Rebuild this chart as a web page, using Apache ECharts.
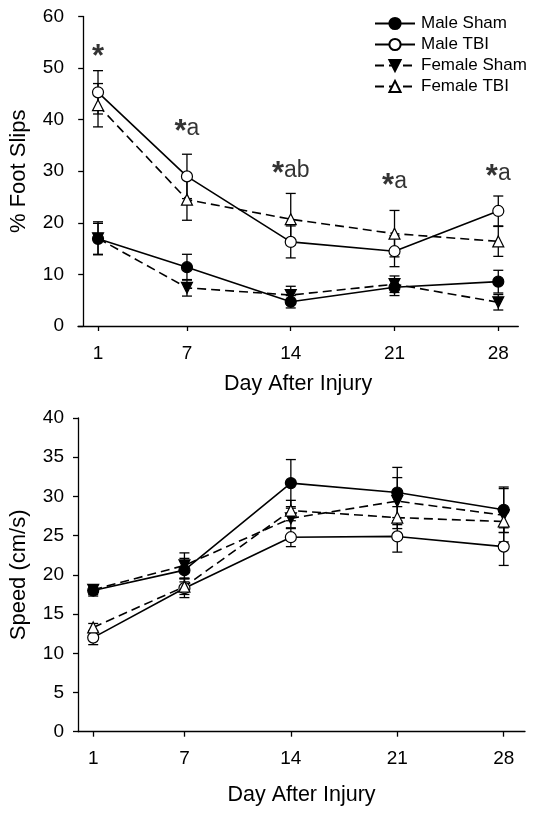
<!DOCTYPE html>
<html>
<head>
<meta charset="utf-8">
<script src="https://cdn.jsdelivr.net/npm/echarts@6/dist/echarts.min.js"></script>
<style>
html,body{margin:0;padding:0;background:#fff;}
#chart{width:535px;height:814px;}
</style>
</head>
<body>
<div id="chart"></div>
<script>
// ---- data ----
var days = [1, 7, 14, 21, 28];
var seriesNames = ['Male Sham', 'Male TBI', 'Female Sham', 'Female TBI'];

// % Foot Slips (mean, SEM)
var slipMaleSham = [16.9, 11.4, 4.7, 7.5, 8.6];
var slipMaleShamSem = [3.0, 2.5, 1.2, 1.6, 2.2];
var slipMaleTBI = [45.3, 29.0, 16.3, 14.5, 22.3];
var slipMaleTBISem = [4.2, 4.3, 3.1, 3.0, 2.9];
var slipFemaleSham = [17.0, 7.4, 6.0, 8.1, 4.6];
var slipFemaleShamSem = [3.2, 1.6, 1.7, 1.6, 1.5];
var slipFemaleTBI = [42.8, 24.5, 20.7, 17.9, 16.4];
var slipFemaleTBISem = [4.2, 4.0, 5.0, 4.5, 2.9];

// Speed (cm/s) (mean, SEM)
var speedMaleSham = [18.0, 20.6, 31.7, 30.5, 28.3];
var speedMaleShamSem = [0.7, 1.5, 3.0, 3.2, 2.9];
var speedMaleTBI = [12.0, 18.3, 24.8, 24.9, 23.6];
var speedMaleTBISem = [0.9, 1.2, 1.2, 2.0, 2.4];
var speedFemaleSham = [18.1, 21.2, 27.2, 29.4, 27.6];
var speedFemaleShamSem = [0.6, 1.6, 1.3, 3.0, 3.4];
var speedFemaleTBI = [13.3, 18.5, 28.2, 27.3, 26.8];
var speedFemaleTBISem = [0.5, 1.0, 1.3, 1.4, 1.4];

// significance annotations (top panel)
var annoDays = [1, 7, 14, 21, 28];
var annoLevels = [53.0, 38.3, 30.2, 27.9, 29.6];
var annoStars = ['*', '*', '*', '*', '*'];
var annoLetters = ['', 'a', 'ab', 'a', 'a'];

var yTicksTop = [0, 10, 20, 30, 40, 50, 60];
var yTicksBottom = [0, 5, 10, 15, 20, 25, 30, 35, 40];

// ---- helpers ----
var FONT = '"Liberation Sans", Arial, Helvetica, sans-serif';
function pairs(xs, ys) { return xs.map(function (x, i) { return [x, ys[i]]; }); }
function errData(xs, m, s) { return xs.map(function (x, i) { return [x, m[i] - s[i], m[i] + s[i]]; }); }
function renderErr(params, api) {
  var x = api.value(0), lo = api.value(1), hi = api.value(2);
  var pLo = api.coord([x, lo]), pHi = api.coord([x, hi]);
  var hw = 5;
  var st = { stroke: '#000', lineWidth: 1.3, fill: null };
  return {
    type: 'group', children: [
      { type: 'line', shape: { x1: pLo[0], y1: pLo[1], x2: pHi[0], y2: pHi[1] }, style: st },
      { type: 'line', shape: { x1: pLo[0] - hw, y1: pLo[1], x2: pLo[0] + hw, y2: pLo[1] }, style: st },
      { type: 'line', shape: { x1: pHi[0] - hw, y1: pHi[1], x2: pHi[0] + hw, y2: pHi[1] }, style: st }
    ]
  };
}
var styles = {
  'Male Sham': { symbol: 'circle', rotate: 0, fill: '#000', dash: 'solid' },
  'Male TBI': { symbol: 'circle', rotate: 0, fill: '#fff', dash: 'solid' },
  'Female Sham': { symbol: 'triangle', rotate: 180, fill: '#000', dash: [9, 5] },
  'Female TBI': { symbol: 'triangle', rotate: 0, fill: '#fff', dash: [9, 5] }
};
function lineSeries(name, idx, ys) {
  var s = styles[name];
  return {
    type: 'line', name: name, xAxisIndex: idx, yAxisIndex: idx,
    data: pairs(days, ys),
    symbol: s.symbol, symbolRotate: s.rotate, symbolSize: 11,
    showAllSymbol: true,
    lineStyle: { color: '#000', width: 1.6, type: s.dash },
    itemStyle: { color: s.fill, borderColor: '#000', borderWidth: 1.2 },
    z: 3, animation: false
  };
}
function errSeries(idx, m, s) {
  return {
    type: 'custom', xAxisIndex: idx, yAxisIndex: idx, z: 2, silent: true,
    renderItem: renderErr, data: errData(days, m, s),
    encode: { x: 0, y: [1, 2] }, animation: false
  };
}
function xAxis(idx, min, max, gap) {
  return {
    type: 'value', gridIndex: idx, min: min, max: max,
    name: 'Day After Injury', nameLocation: 'middle', nameGap: gap,
    nameTextStyle: { color: '#000', fontSize: 21.5, fontFamily: FONT },
    axisLine: { lineStyle: { color: '#000', width: 1.3 } },
    axisTick: { show: true, length: 5, lineStyle: { color: '#000', width: 1.3 }, customValues: days },
    axisLabel: { color: '#000', fontSize: 19, fontFamily: FONT, margin: 18, customValues: days },
    splitLine: { show: false }
  };
}
function yAxis(idx, max, interval, name, ticks) {
  return {
    type: 'value', gridIndex: idx, min: 0, max: max, interval: interval,
    name: name, nameLocation: 'middle', nameGap: 48,
    nameTextStyle: { color: '#000', fontSize: 22, fontFamily: FONT },
    axisLine: { show: true, lineStyle: { color: '#000', width: 1.3 } },
    axisTick: { show: true, length: 5, lineStyle: { color: '#000', width: 1.3 }, customValues: ticks },
    axisLabel: { color: '#000', fontSize: 19, fontFamily: FONT, margin: 14, customValues: ticks },
    splitLine: { show: false }
  };
}

var chart = echarts.init(document.getElementById('chart'), null, { renderer: 'canvas' });
var option = {
  backgroundColor: '#fff',
  animation: false,
  textStyle: { fontFamily: FONT },
  grid: [
    { left: 76.7, right: 16.7, top: 16.5, height: 309.5, containLabel: false },
    { left: 77.3, right: 10, top: 418, height: 313.7, containLabel: false }
  ],
  legend: {
    data: seriesNames, orient: 'vertical', left: 369, top: 8,
    itemWidth: 40, itemHeight: 14, itemGap: 0,
    textStyle: { color: '#000', fontSize: 17, fontFamily: FONT, padding: [0, 0, 0, 1], lineHeight: 21 },
    selectedMode: false
  },
  xAxis: [xAxis(0, -0.35, 29.35, 47), xAxis(1, 0, 29.4, 52)],
  yAxis: [
    yAxis(0, 60, 10, '% Foot Slips', yTicksTop),
    yAxis(1, 40, 5, 'Speed (cm/s)', yTicksBottom)
  ],
  series: [
    errSeries(0, slipMaleSham, slipMaleShamSem),
    errSeries(0, slipMaleTBI, slipMaleTBISem),
    errSeries(0, slipFemaleSham, slipFemaleShamSem),
    errSeries(0, slipFemaleTBI, slipFemaleTBISem),
    lineSeries('Male Sham', 0, slipMaleSham),
    lineSeries('Male TBI', 0, slipMaleTBI),
    lineSeries('Female Sham', 0, slipFemaleSham),
    lineSeries('Female TBI', 0, slipFemaleTBI),
    errSeries(1, speedMaleSham, speedMaleShamSem),
    errSeries(1, speedMaleTBI, speedMaleTBISem),
    errSeries(1, speedFemaleSham, speedFemaleShamSem),
    errSeries(1, speedFemaleTBI, speedFemaleTBISem),
    lineSeries('Male Sham', 1, speedMaleSham),
    lineSeries('Male TBI', 1, speedMaleTBI),
    lineSeries('Female Sham', 1, speedFemaleSham),
    lineSeries('Female TBI', 1, speedFemaleTBI),
    {
      type: 'scatter', name: 'annotations', xAxisIndex: 0, yAxisIndex: 0,
      symbolSize: 0, silent: true, z: 5,
      data: annoDays.map(function (d, i) {
        return { value: [d, annoLevels[i]], label: { formatter: '{s|' + annoStars[i] + '}' + (annoLetters[i] ? '{t|' + annoLetters[i] + '}' : '') } };
      }),
      label: {
        show: true, position: 'inside', color: '#000', fontFamily: FONT,
        rich: {
          s: { fontSize: 31, fontWeight: 'bold', fontFamily: FONT, color: '#000', padding: [9, 0, 0, 0], lineHeight: 30 },
          t: { fontSize: 23, fontFamily: FONT, color: '#000', lineHeight: 30 }
        }
      }
    }
  ]
};
chart.setOption(option);
</script>
</body>
</html>
